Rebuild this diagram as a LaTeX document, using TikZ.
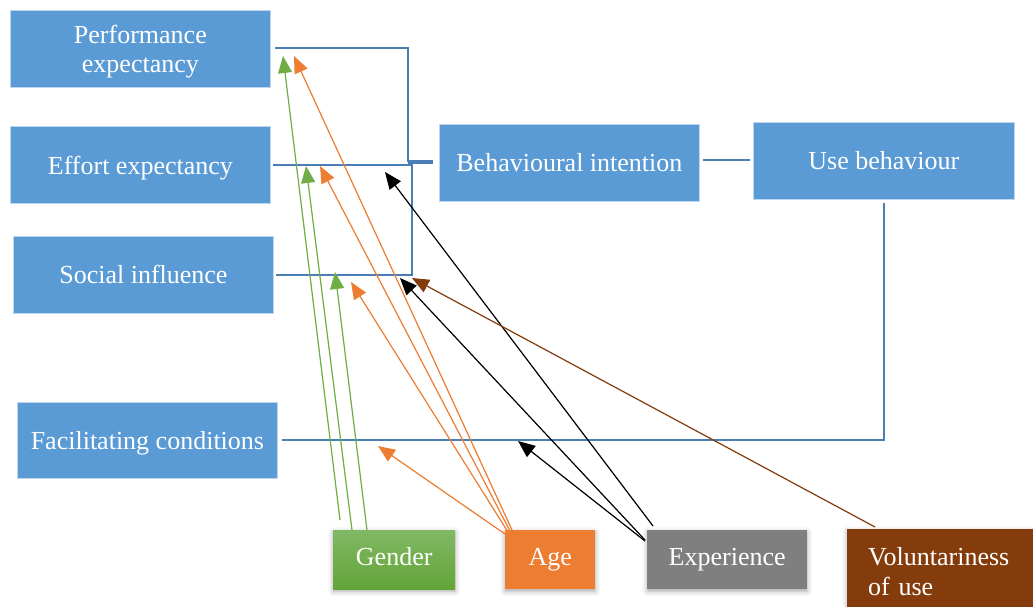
\documentclass[tikz,border=0pt]{standalone}
\usepackage{fontspec}
\setmainfont{Liberation Serif}
\usetikzlibrary{arrows.meta,shadows.blur}
\definecolor{boxblue}{HTML}{5B9BD5}
\definecolor{lineblue}{HTML}{4A7EB4}
\definecolor{agecol}{HTML}{ED7D31}
\definecolor{expcol}{HTML}{7F7F7F}
\definecolor{volcol}{HTML}{843C0C}
\definecolor{gtop}{HTML}{81B865}
\definecolor{gbot}{HTML}{62A537}
\definecolor{garrow}{HTML}{70AD47}
\tikzset{
  construct/.style={rectangle, anchor=north west, inner sep=0pt, fill=boxblue,
    draw=boxblue!40!white, line width=0.8pt, text=white,
    font=\fontsize{26}{28.5}\selectfont, align=center},
  moderator/.style={rectangle, anchor=north west, inner sep=0pt, text=white,
    font=\fontsize{26}{30}\selectfont,
    blur shadow={shadow xshift=0pt, shadow yshift=-2pt, shadow blur radius=5pt, shadow opacity=35}},
  oneline/.style={text height=18pt, text depth=6pt},
  lowline/.style={text height=25pt, text depth=6pt},
  conn/.style={draw=lineblue, line width=2.4pt},
  modarrow/.style={line width=1.2pt, -{Triangle[length=17pt,width=14pt]}},
}
\begin{document}
\begin{tikzpicture}[x=1pt,y=-1pt]
\useasboundingbox (0,0) rectangle (1033,606);

% core constructs
\node[construct, minimum width=260pt, minimum height=77pt] (pe) at (10,10) {\rule{0pt}{24pt}Performance\\expectancy};
\node[construct, lowline, minimum width=260pt, minimum height=77pt] (ee) at (10,126) {Effort expectancy};
\node[construct, minimum width=260pt, minimum height=77pt] (si) at (13,236) {Social influence};
\node[construct, lowline, minimum width=260pt, minimum height=76pt] (fc) at (17,402) {Facilitating conditions};
\node[construct, minimum width=260pt, minimum height=77pt] (bi) at (439,124) {Behavioural intention};
\node[construct, minimum width=261pt, minimum height=77pt] (ub) at (753,122) {Use behaviour};

% moderators
\node[moderator, oneline, top color=gtop, bottom color=gbot, minimum width=122pt, minimum height=59pt] (gen) at (333,530) {Gender};
\node[moderator, oneline, fill=agecol, minimum width=90pt, minimum height=59pt] (age) at (505,530) {Age};
\node[moderator, oneline, fill=expcol, minimum width=160pt, minimum height=59pt] (exp) at (647,530) {Experience};
\node[moderator, fill=volcol, minimum width=190pt, minimum height=80pt, align=left, text width=190pt] (vol) at (847,529) {\rule{0pt}{23pt}\hspace*{21pt}Voluntariness\\\hspace*{21pt}of use};

% structural paths
\coordinate (peL) at (275,48);
\coordinate (peR) at (408,48);
\coordinate (joinA) at (408,162);
\coordinate (stubEnd) at (433,162);
\coordinate (eeL) at (273,165);
\coordinate (eeR) at (412,165);
\coordinate (siR) at (412,275);
\coordinate (siL) at (276,275);
\coordinate (biR) at (703,160);
\coordinate (ubL) at (750,160);
\coordinate (fcL) at (282,440);
\coordinate (fcR) at (884,440);
\coordinate (ubB) at (884,203);

\draw[conn] (peL) -- (peR) -- (joinA);
\draw[draw=lineblue, line width=3.5pt] (joinA) -- (stubEnd);
\draw[conn] (eeL) -- (eeR) -- (siR) -- (siL);
\draw[conn] (biR) -- (ubL);
\draw[conn] (fcL) -- (fcR) -- (ubB);

% moderator arrow ends
\coordinate (g1s) at (340,520);  \coordinate (g1t) at (283,56);
\coordinate (g2s) at (352,530);  \coordinate (g2t) at (306,166);
\coordinate (g3s) at (367,530);  \coordinate (g3t) at (335,272);
\coordinate (a1s) at (512,530);  \coordinate (a1t) at (294,56);
\coordinate (a2s) at (510,531);  \coordinate (a2t) at (320,166);
\coordinate (a3s) at (508,532);  \coordinate (a3t) at (351,282);
\coordinate (a4s) at (505,534);  \coordinate (a4t) at (378,446);
\coordinate (e1s) at (653,526);  \coordinate (e1t) at (385,172);
\coordinate (e2s) at (645,540);  \coordinate (e2t) at (400,278);
\coordinate (e3s) at (645,541);  \coordinate (e3t) at (518,441);
\coordinate (v1s) at (875,527);  \coordinate (v1t) at (412,278);

\draw[modarrow, draw=garrow, fill=garrow] (g1s) -- (g1t);
\draw[modarrow, draw=garrow, fill=garrow] (g2s) -- (g2t);
\draw[modarrow, draw=garrow, fill=garrow] (g3s) -- (g3t);
\draw[modarrow, draw=agecol, fill=agecol] (a1s) -- (a1t);
\draw[modarrow, draw=agecol, fill=agecol] (a2s) -- (a2t);
\draw[modarrow, draw=agecol, fill=agecol] (a3s) -- (a3t);
\draw[modarrow, draw=agecol, fill=agecol] (a4s) -- (a4t);
\draw[modarrow, draw=black, fill=black] (e1s) -- (e1t);
\draw[modarrow, draw=black, fill=black] (e2s) -- (e2t);
\draw[modarrow, draw=black, fill=black] (e3s) -- (e3t);
\draw[modarrow, draw=volcol, fill=volcol] (v1s) -- (v1t);
\end{tikzpicture}
\end{document}
